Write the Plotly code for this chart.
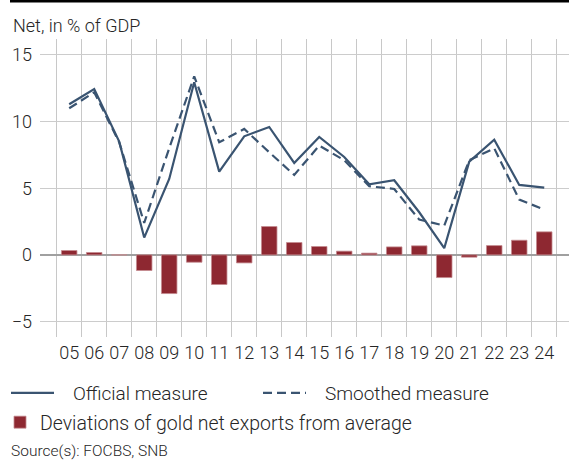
import plotly.graph_objects as go

years = ["05", "06", "07", "08", "09", "10", "11", "12", "13", "14",
         "15", "16", "17", "18", "19", "20", "21", "22", "23", "24"]
official = [11.3, 12.45, 8.5, 1.3, 5.7, 12.95, 6.25, 8.9, 9.6, 6.9,
            8.85, 7.35, 5.3, 5.6, 3.2, 0.5, 7.0, 8.65, 5.25, 5.05]
smoothed = [11.0, 12.2, 8.45, 2.4, 8.0, 13.4, 8.45, 9.45, 7.7, 6.0,
            8.2, 7.1, 5.15, 4.95, 2.65, 2.2, 7.1, 8.0, 4.15, 3.4]
gold_dev = [0.33, 0.18, 0.0, -1.17, -2.9, -0.55, -2.22, -0.6, 2.13, 0.93,
            0.63, 0.28, 0.13, 0.6, 0.68, -1.7, -0.17, 0.7, 1.1, 1.73]
y_ticks = [-5, 0, 5, 10, 15]

FONT = "Roboto, Liberation Sans, Arial, sans-serif"
W8 = 300
TXT = "#262626"
LINE = "#3a5471"
BAR = "#8e2831"
NB = "\u00a0"

fig = go.Figure()
fig.add_trace(go.Bar(
    x=years, y=gold_dev, width=0.62,
    marker=dict(color=BAR, line=dict(color="#c48a8f", width=0.8)),
    name="Deviations of gold net exports from average",
    legend="legend2",
))
fig.add_trace(go.Scatter(
    x=years, y=official, mode="lines",
    line=dict(color=LINE, width=2.2),
    name=NB * 3 + "Official measure",
    legend="legend",
))
fig.add_trace(go.Scatter(
    x=years, y=smoothed, mode="lines",
    line=dict(color=LINE, width=2.2, dash="9px,5px"),
    name=NB * 3 + "Smoothed measure",
    legend="legend",
))

H = 461
PL, PW = 40, 529
PB, PH = 336.7, 297.7
fig.update_layout(
    width=569, height=H,
    margin=dict(l=PL, r=0, t=39, b=124.3),
    paper_bgcolor="white", plot_bgcolor="white",
    font=dict(family=FONT, color=TXT, size=18, weight=W8),
    showlegend=True,
    barmode="overlay",
    xaxis=dict(
        type="category", range=[-1.168, 19.99],
        tickson="boundaries", showgrid=True, gridcolor="#c8c8c8", gridwidth=1,
        ticks="", showline=False, zeroline=False, tickangle=0,
        ticklabelstandoff=3,
        tickfont=dict(size=18, color=TXT, family=FONT, weight=W8),
        fixedrange=True,
    ),
    yaxis=dict(
        range=[-6.16, 16.2], tickvals=y_ticks,
        showgrid=True, gridcolor="#cccccc", gridwidth=1,
        zeroline=True, zerolinecolor="#a0a0a0", zerolinewidth=2,
        ticks="", ticklabelstandoff=7, showline=False,
        tickfont=dict(size=18, color=TXT, family=FONT, weight=W8),
        fixedrange=True,
    ),
    legend=dict(
        orientation="h", xref="container", yref="container",
        x=6 / 569, xanchor="left", y=(H - 374) / H, yanchor="top",
        itemwidth=43, entrywidth=194, entrywidthmode="pixels",
        font=dict(size=19, color=TXT, family=FONT, weight=W8), bgcolor="rgba(0,0,0,0)",
        itemclick=False, itemdoubleclick=False, traceorder="normal",
    ),
    legend2=dict(
        orientation="h", xref="paper", yref="container",
        x=(-2 - PL) / PW, xanchor="left", y=(H - 403) / H, yanchor="top",
        itemwidth=30,
        font=dict(size=19.5, color=TXT, family=FONT, weight=W8), bgcolor="rgba(0,0,0,0)",
        itemclick=False, itemdoubleclick=False,
    ),
    annotations=[
        dict(text="Net, in % of GDP", xref="paper", yref="paper",
             x=(11 - PL) / PW, y=(PB - 25.5) / PH,
             xanchor="left", yanchor="middle", showarrow=False,
             font=dict(size=18, color=TXT, family=FONT, weight=W8)),
        dict(text="Source(s): FOCBS, SNB", xref="paper", yref="paper",
             x=(10 - PL) / PW, y=(PB - 460.5) / PH,
             xanchor="left", yanchor="bottom", showarrow=False, borderpad=0,
             font=dict(size=15.5, color=TXT, family=FONT, weight=W8)),
    ],
    shapes=[
        dict(type="line", xref="paper", yref="paper",
             x0=(10 - PL) / PW, x1=1.0, y0=(PB - 1.2) / PH, y1=(PB - 1.2) / PH,
             line=dict(color="black", width=2.5)),
    ],
)

fig.write_html("out.html", config={"displayModeBar": False},
               post_script="document.body.style.margin='0';")
